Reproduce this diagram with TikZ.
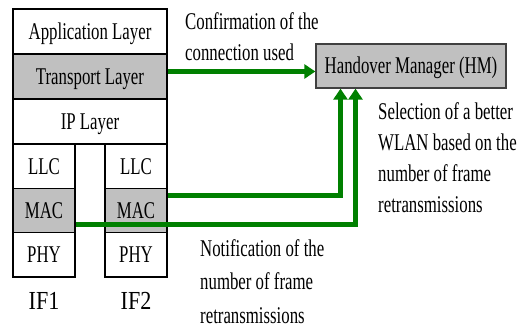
\documentclass[tikz,border=0pt]{standalone}
\usepackage{fontspec}
\setmainfont{Liberation Serif}[FakeStretch=0.7]
\newfontfamily\iffont{Liberation Serif}[FakeStretch=0.85]
\usetikzlibrary{arrows.meta}
\definecolor{arrgreen}{RGB}{0,128,0}
\definecolor{boxgray}{RGB}{192,192,192}
\definecolor{hmborder}{RGB}{64,64,64}
\begin{document}
\begin{tikzpicture}[x=1pt,y=-1pt,
  layer/.style={draw=black, line width=1.3pt, inner sep=0pt, text height=16pt, text depth=0pt, font=\fontsize{24}{30}\selectfont},
  full/.style={layer, minimum width=154pt, minimum height=45pt},
  half/.style={layer, minimum width=62pt, minimum height=44.33pt},
  shaded/.style={fill=boxgray},
  arr/.style={draw=arrgreen, line width=5pt, -{Triangle[width=14pt,length=11pt]}, line join=miter},
  note/.style={align=left, anchor=north west, inner sep=0pt, font=\fontsize{24}{31}\selectfont},
  iflabel/.style={inner sep=0pt, text height=18pt, text depth=0pt, font=\iffont\fontsize{26}{30}\selectfont}
]
\useasboundingbox (0,0) rectangle (520,331);
% protocol stack
\node[full] (app) at (90,31.5) {Application Layer};
\node[full,shaded] (trans) at (90,76.5) {Transport Layer};
\node[full] (ip) at (90,121.5) {IP Layer};
\node[half] (llc1) at (44,166.17) {LLC};
\node[half,shaded] (mac1) at (44,210.5) {MAC};
\node[half] (phy1) at (44,254.83) {PHY};
\node[half] (llc2) at (136,166.17) {LLC};
\node[half,shaded] (mac2) at (136,210.5) {MAC};
\node[half] (phy2) at (136,254.83) {PHY};
\node[iflabel] (if1) at (44,301) {IF1};
\node[iflabel] (if2) at (136,301) {IF2};
% handover manager
\node[layer, fill=boxgray, draw=hmborder, minimum width=190pt, minimum height=44pt] (hm) at (411,66) {Handover Manager (HM)};
% annotations
\node[note] (conf) at (185,12) {Confirmation of the\\connection used};
\node[note] (sel) at (378,102) {Selection of a better\\WLAN based on the\\number of frame\\retransmissions};
\node[note, font=\fontsize{24}{33.5}\selectfont] (notif) at (200,239) {Notification of the\\number of frame\\retransmissions};
% connectors
\coordinate (t1) at ([yshift=5pt]trans.east);
\coordinate (m2) at ([yshift=15pt]mac2.east);
\coordinate (m1) at ([yshift=-14pt]mac1.east);
\coordinate (h2) at ([xshift=-70.5pt]hm.south);
\coordinate (h1) at ([xshift=-55.5pt]hm.south);
\draw[arr] (t1) -- (t1 -| hm.west);
\draw[arr] (m2) -| (h2);
\draw[arr] (m1) -| (h1);
\end{tikzpicture}
\end{document}
